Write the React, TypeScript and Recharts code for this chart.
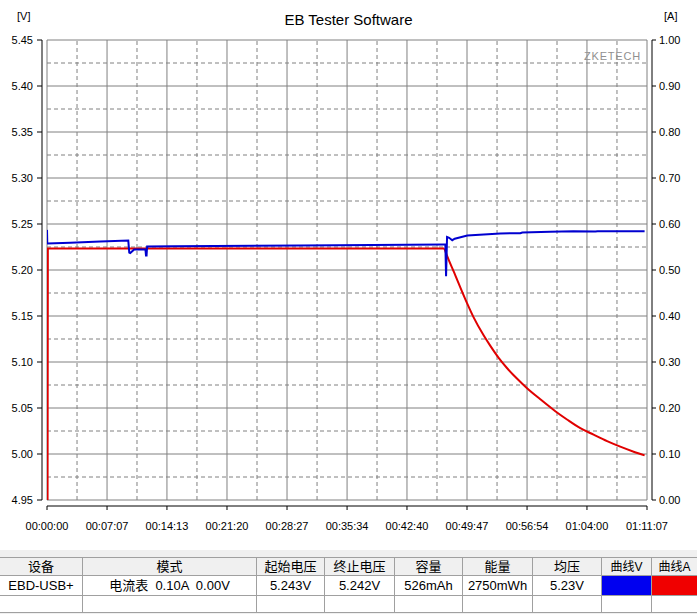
import React from "react";
import {
  CartesianGrid,
  Line,
  LineChart,
  ReferenceLine,
  XAxis,
  YAxis,
} from "recharts";

// elapsed seconds / volts for the blue curve
const voltTime = [
  0, 2, 166, 379, 578, 585, 592, 620, 700, 704, 708, 712, 898, 1801, 2826,
  2833, 2838, 2845, 2860, 2882, 2900, 2989, 3224, 3366, 3380, 3579, 3743,
  3900, 3915, 4250,
];
const voltValue = [
  5.2436, 5.2288, 5.2296, 5.231, 5.2321, 5.219, 5.2185, 5.2223, 5.2223,
  5.2158, 5.2158, 5.2255, 5.2259, 5.2265, 5.2277, 5.2277, 5.1933, 5.2359,
  5.235, 5.2324, 5.234, 5.2375, 5.2397, 5.24, 5.2408, 5.2415, 5.2422, 5.2418,
  5.2422, 5.242,
];

// elapsed seconds / amps for the red curve (flat part, then the taper)
const currFlatTime = [4, 6, 1500, 2826];
const currFlatValue = [0, 0.547, 0.547, 0.547];
const currTaperTime = [
  2826, 2840, 2892, 2987, 3034, 3105, 3153, 3212, 3271, 3342, 3414, 3508,
  3615, 3698, 3793, 3887, 3983, 4077, 4172, 4250,
];
const currTaperValue = [
  0.547, 0.535, 0.497, 0.428, 0.397, 0.358, 0.335, 0.309, 0.287, 0.264, 0.243,
  0.219, 0.193, 0.175, 0.156, 0.142, 0.128, 0.116, 0.105, 0.097,
];

const timeTicks = [0, 427, 853, 1280, 1707, 2134, 2560, 2987, 3414, 3840, 4267];
const timeLabels = [
  "00:00:00", "00:07:07", "00:14:13", "00:21:20", "00:28:27", "00:35:34",
  "00:42:40", "00:49:47", "00:56:54", "01:04:00", "01:11:07",
];
const voltTicks = [4.95, 5.0, 5.05, 5.1, 5.15, 5.2, 5.25, 5.3, 5.35, 5.4, 5.45];
const ampTicks = [0, 0.1, 0.2, 0.3, 0.4, 0.5, 0.6, 0.7, 0.8, 0.9, 1.0];

const tableHead = ["设备", "模式", "起始电压", "终止电压", "容量", "能量", "均压", "曲线V", "曲线A"];
const tableRow = ["EBD-USB+", "电流表  0.10A  0.00V", "5.243V", "5.242V", "526mAh", "2750mWh", "5.23V", "", ""];
const colWidths = [83, 174, 68, 70, 68, 70, 69, 50, 45];

const voltData = voltTime.map((t, i) => ({ t, v: voltValue[i] }));
const currFlat = currFlatTime.map((t, i) => ({ t, a: currFlatValue[i] }));
const currTaper = currTaperTime.map((t, i) => ({ t, a: currTaperValue[i] }));

const GRID = "#808080";
const FONT = "'Liberation Sans', Arial, sans-serif";
const TICK = { fill: "#000", fontSize: 11, fontFamily: FONT };

const minorX = timeTicks.slice(1).map((t, i) => (t + timeTicks[i]) / 2);
const minorY = voltTicks.slice(1).map((v, i) => (v + voltTicks[i]) / 2);

const rows = [
  { top: 557, h: 19, cells: tableHead, bg: "#f0f0f0" },
  { top: 576, h: 20, cells: tableRow, bg: "#fff" },
  { top: 596, h: 17, cells: colWidths.map(() => ""), bg: "#fff" },
];

function Table() {
  const lefts = colWidths.map((_, i) => colWidths.slice(0, i).reduce((s, w) => s + w, 0));
  return (
    <div style={{ position: "absolute", left: 0, top: 550, width: 697, height: 64, background: "#f0f0f0" }}>
      {rows.map((r, ri) =>
        r.cells.map((txt, ci) => {
          let bg = r.bg;
          if (ri === 1 && ci === 7) bg = "#0000f0";
          if (ri === 1 && ci === 8) bg = "#f00000";
          return (
            <div
              key={`${ri}-${ci}`}
              style={{
                position: "absolute",
                left: lefts[ci],
                top: r.top - 550,
                width: colWidths[ci],
                height: r.h,
                boxSizing: "border-box",
                borderTop: ri === 0 ? "1px solid #a0a0a0" : "none",
                borderBottom: "1px solid #a0a0a0",
                borderRight: ci < colWidths.length - 1 ? "1px solid #a0a0a0" : "none",
                background: bg,
                textAlign: "center",
                whiteSpace: "pre",
                lineHeight: `${r.h - 1}px`,
                fontFamily: `${FONT}, 'Noto Sans CJK SC'`,
                fontSize: ci >= 7 ? 12 : 13,
                color: "#000",
                overflow: "visible",
              }}
            >
              {txt}
            </div>
          );
        })
      )}
    </div>
  );
}

export default function App() {
  return (
    <div style={{ position: "absolute", left: 0, top: 0, width: 697, height: 614, background: "#fff", overflow: "hidden" }}>
      <div style={{ position: "absolute", left: 0, top: 11, width: 697, textAlign: "center", fontFamily: FONT, fontSize: 15 }}>
        EB Tester Software
      </div>
      <div style={{ position: "absolute", left: 17, top: 10, fontFamily: FONT, fontSize: 11 }}>[V]</div>
      <div style={{ position: "absolute", left: 664, top: 10, fontFamily: FONT, fontSize: 11 }}>[A]</div>
      <div
        style={{
          position: "absolute",
          right: 56,
          top: 50,
          fontFamily: FONT,
          fontSize: 11,
          color: "#909090",
          letterSpacing: 0.8,
          zIndex: 2,
        }}
      >
        ZKETECH
      </div>
      <LineChart width={697} height={545} margin={{ top: 40, right: 0, bottom: 0, left: 0 }}>
        <CartesianGrid yAxisId="v" stroke={GRID} strokeWidth={1} />
        {minorY.map((v) => (
          <ReferenceLine key={`y${v}`} yAxisId="v" y={v} stroke={GRID} strokeDasharray="4 3" />
        ))}
        {minorX.map((t) => (
          <ReferenceLine key={`x${t}`} yAxisId="v" x={t} stroke={GRID} strokeDasharray="4 3" />
        ))}
        <XAxis
          dataKey="t"
          type="number"
          domain={[0, 4267]}
          ticks={timeTicks}
          tickFormatter={(t: number) => timeLabels[timeTicks.indexOf(t)]}
          height={45}
          tick={TICK}
          tickSize={4}
          tickMargin={18}
          axisLine={{ stroke: "#000", transform: "translate(0 6)" }}
          tickLine={{ stroke: "#000", transform: "translate(0 6)" }}
          interval={0}
          allowDataOverflow
        />
        <YAxis
          yAxisId="v"
          orientation="left"
          type="number"
          domain={[4.95, 5.45]}
          ticks={voltTicks}
          tickFormatter={(v: number) => v.toFixed(2)}
          width={47}
          tick={TICK}
          tickSize={5}
          tickMargin={9}
          axisLine={{ stroke: "#000", transform: "translate(-5 0)" }}
          tickLine={{ stroke: "#000", transform: "translate(-5 0)" }}
          interval={0}
          allowDataOverflow
        />
        <YAxis
          yAxisId="a"
          orientation="right"
          type="number"
          domain={[0, 1]}
          ticks={ampTicks}
          tickFormatter={(v: number) => v.toFixed(2)}
          width={50}
          tick={TICK}
          tickSize={4}
          tickMargin={8}
          axisLine={{ stroke: "#000", transform: "translate(5 0)" }}
          tickLine={{ stroke: "#000", transform: "translate(5 0)" }}
          interval={0}
          allowDataOverflow
        />
        <Line
          yAxisId="a"
          data={currFlat}
          dataKey="a"
          type="linear"
          stroke="#e00000"
          strokeWidth={2}
          dot={false}
          isAnimationActive={false}
        />
        <Line
          yAxisId="a"
          data={currTaper}
          dataKey="a"
          type="monotone"
          stroke="#e00000"
          strokeWidth={2}
          dot={false}
          isAnimationActive={false}
        />
        <Line
          yAxisId="v"
          data={voltData}
          dataKey="v"
          type="linear"
          stroke="#0000d0"
          strokeWidth={2}
          dot={false}
          isAnimationActive={false}
        />
      </LineChart>
      <Table />
    </div>
  );
}
